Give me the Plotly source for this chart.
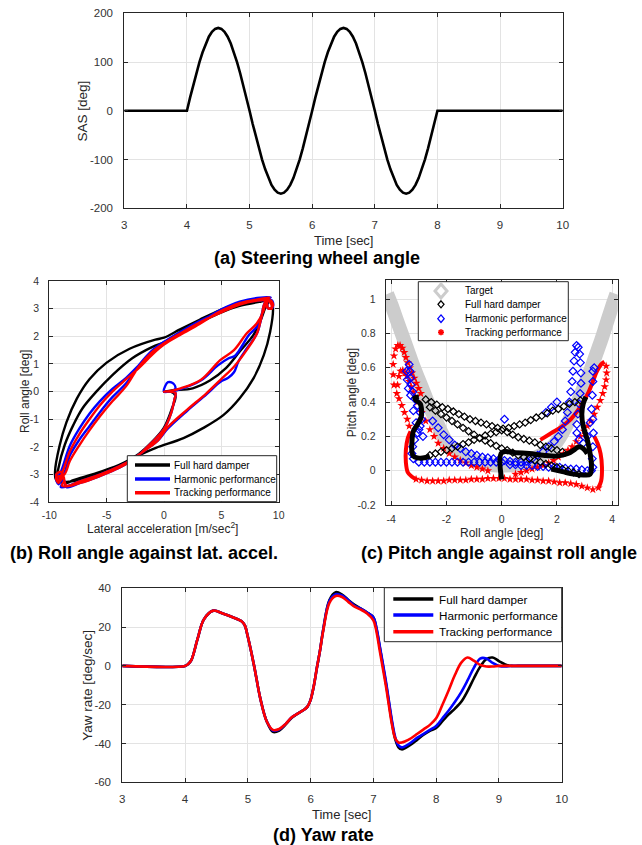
import plotly.graph_objects as go

W, H = 642, 845

# ---------------- (a) Steering wheel angle ----------------
sas_time = [3, 4, 4.05, 4.1, 4.15, 4.2, 4.25, 4.3, 4.35, 4.4, 4.45, 4.5, 4.55, 4.6, 4.65, 4.7, 4.75, 4.8, 4.85,
            4.9, 4.95, 5.0, 5.05, 5.1, 5.15, 5.2, 5.25, 5.3, 5.35, 5.4, 5.45, 5.5, 5.55, 5.6, 5.65, 5.7, 5.75,
            5.8, 5.85, 5.9, 5.95, 6.0, 6.05, 6.1, 6.15, 6.2, 6.25, 6.3, 6.35, 6.4, 6.45, 6.5, 6.55, 6.6, 6.65,
            6.7, 6.75, 6.8, 6.85, 6.9, 6.95, 7.0, 7.05, 7.1, 7.15, 7.2, 7.25, 7.3, 7.35, 7.4, 7.45, 7.5, 7.55,
            7.6, 7.65, 7.7, 7.75, 7.8, 7.85, 7.9, 7.95, 8.0, 10]
sas_deg = [0, 0, 27, 53, 77, 100, 120, 138, 152, 162, 168, 170, 168, 162, 152, 138, 120, 100, 77,
           53, 27, 0, -27, -53, -77, -100, -120, -138, -152, -162, -168, -170, -168, -162, -152, -138, -120,
           -100, -77, -53, -27, 0, 27, 53, 77, 100, 120, 138, 152, 162, 168, 170, 168, 162, 152,
           138, 120, 100, 77, 53, 27, 0, -27, -53, -77, -100, -120, -138, -152, -162, -168, -170, -168,
           -162, -152, -138, -120, -100, -77, -53, -27, 0, 0]

# ---------------- (b) Roll angle vs lateral acceleration ----------------
ay_black = [0, 0.8, 2.5, 4.0, 5.4, 6.6, 7.8, 8.4, 8.9, 9.2,
            8.4, 6.6, 4.9, 3.1, 1.4, 0, -0.75, -3.0, -5.0, -6.5, -7.6, -8.5, -9.1, -9.5, -9.4,
            -8.5, -7.9, -5.9, -3.9, -2.2, -0.7, 1.7, 3.4, 5.2, 6.6, 7.8, 8.7, 9.25, 9.5, 9.3,
            8.4, 6.6, 4.9, 3.1, 1.4, 0.1, -1.0, -2.8, -4.5, -5.9, -7.1, -7.9, -8.65, -9.2, -9.3,
            -8.8, -7.4, -5.6, -3.9, -2.2, -1.0, 0, 0.7, 1.0, 0.6, 0]
roll_black = [0, 0.05, 0.12, 0.4, 0.85, 1.45, 2.05, 2.55, 3.1, 3.3,
              3.3, 3.2, 2.95, 2.6, 2.25, 1.95, 1.88, 1.55, 1.05, 0.45, -0.25, -1.1, -1.95, -2.9, -3.2,
              -3.3, -3.2, -2.95, -2.65, -2.3, -2.03, -1.68, -1.32, -0.84, -0.24, 0.48, 1.32, 2.16, 3.0, 3.3,
              3.25, 3.1, 2.85, 2.5, 2.15, 1.8, 1.62, 1.2, 0.6, 0, -0.6, -1.2, -1.92, -2.76, -3.1,
              -3.25, -3.2, -2.95, -2.65, -2.25, -1.8, -1.3, -0.6, -0.15, 0, 0]

ay_blue = [0, 0.1, 0.35, 0.8, 1.0, 0.8, 1.5, 3.2, 4.7, 5.6, 6.2, 6.8, 7.4, 8.1, 8.6, 8.9,
           9.3, 9.5, 9.1, 8.8, 9.3,
           8.4, 6.6, 4.9, 3.1, 1.4, 0, -1, -2.2, -3.3, -4.5, -5.6, -6.5, -7.4, -8.2, -8.9,
           -9.3, -9.4, -9.0, -8.8, -9.0,
           -8.3, -7.4, -5.6, -3.9, -2.8, -1.6, -0.5, 0.3, 2.0, 3.7, 4.9, 5.6, 6.1, 6.5, 7.2, 8.1, 8.5, 8.8,
           9.4, 9.5, 9.1, 8.9,
           8.4, 6.6, 4.9, 3.1, 1.4, 0, -1, -2.2, -3.3, -4.5, -5.6, -6.5, -7.4, -8.2, -8.8,
           -9.4, -9.2, -8.8,
           -8.5, -7.3, -5.6, -3.9, -2.5, -1.2, 0, 0.6, 0.9, 1.0, 0.5, 0]
roll_blue = [0, 0.2, 0.34, 0.3, 0.12, 0.03, 0.1, 0.4, 0.95, 1.2, 1.3, 1.65, 2.05, 2.35, 2.9, 3.3,
             3.25, 3.05, 3.0, 3.3, 3.4,
             3.4, 3.25, 2.95, 2.5, 2.1, 1.75, 1.4, 0.95, 0.5, 0.1, -0.35, -0.8, -1.35, -1.95, -2.8,
             -3.2, -3.0, -2.95, -3.25, -3.45,
             -3.4, -3.25, -3.0, -2.7, -2.45, -2.1, -1.75, -1.35, -0.7, -0.1, 0.35, 0.5, 0.7, 1.1, 1.55, 2.1, 2.7, 3.2,
             3.3, 3.1, 3.0, 3.3,
             3.3, 3.2, 2.9, 2.55, 2.15, 1.8, 1.5, 0.95, 0.3, -0.2, -0.75, -1.25, -1.75, -2.3, -3.0,
             -3.1, -3.35, -3.1,
             -3.45, -3.3, -3.05, -2.75, -2.4, -1.9, -1.35, -0.8, -0.3, -0.05, 0, 0]

ay_red = [0, 0.5, 1.45, 3.2, 4.9, 6.1, 7.2, 8.1, 8.7, 8.9,
          9.3, 9.4, 9.0, 8.8, 9.2,
          8.4, 6.6, 4.9, 3.1, 1.4, 0, -1, -2.2, -3.3, -4.5, -5.6, -6.5, -7.4, -8.2, -8.8,
          -9.2, -9.4, -9.0, -8.7, -8.9,
          -8.3, -7.4, -5.6, -3.9, -2.8, -1.6, -0.5, 0.3, 2.0, 3.7, 4.9, 6.1, 7.2, 8.1, 8.5, 8.8,
          9.3, 9.5, 9.1, 8.9,
          8.4, 6.6, 4.9, 3.1, 1.4, 0, -1, -2.2, -3.3, -4.5, -5.6, -6.5, -7.4, -8.2, -8.7,
          -9.4, -9.2, -8.8,
          -8.5, -7.3, -5.6, -3.9, -2.5, -1.2, 0, 0.6, 0.9, 1.0, 0.5, 0]
roll_red = [0, 0.02, 0.12, 0.42, 1.14, 1.5, 2.1, 2.47, 2.95, 3.3,
            3.2, 3.0, 3.05, 3.3, 3.4,
            3.35, 3.2, 2.9, 2.45, 2.05, 1.7, 1.35, 0.85, 0.45, 0.0, -0.5, -1.0, -1.55, -2.15, -2.85,
            -3.2, -3.0, -2.9, -3.2, -3.4,
            -3.4, -3.25, -3.0, -2.7, -2.45, -2.1, -1.75, -1.3, -0.66, -0.06, 0.42, 0.9, 1.5, 2.1, 2.7, 3.2,
            3.3, 3.1, 3.0, 3.3,
            3.3, 3.15, 2.85, 2.5, 2.1, 1.75, 1.45, 0.9, 0.2, -0.35, -0.9, -1.4, -1.95, -2.5, -3.0,
            -3.1, -3.3, -3.1,
            -3.4, -3.3, -3.05, -2.75, -2.4, -1.9, -1.35, -0.8, -0.3, -0.05, 0, 0]

# ---------------- (c) Pitch angle vs roll angle ----------------
target_roll = [-4.15, -4.0, -3.8, -3.6, -3.4, -3.2, -3.0, -2.8, -2.6, -2.4, -2.2, -2.0, -1.7, -1.4, -1.0, -0.5, 0,
               0.5, 1.0, 1.4, 1.7, 2.0, 2.2, 2.4, 2.6, 2.8, 3.0, 3.2, 3.4, 3.6, 3.8, 4.0, 4.15]
target_pitch = [1.03, 0.97, 0.88, 0.79, 0.70, 0.61, 0.53, 0.45, 0.37, 0.30, 0.23, 0.17, 0.12, 0.09, 0.06, 0.035,
                0.03, 0.035, 0.06, 0.09, 0.12, 0.17, 0.22, 0.28, 0.35, 0.42, 0.50, 0.58, 0.67, 0.76, 0.86, 0.96, 1.03]

hard_roll = [-2.75, -2.55, -2.35, -2.15, -1.95, -1.75, -1.55, -1.35, -1.15, -0.95, -0.75, -0.55, -0.35, -0.15,
             0.05, 0.25, 0.45, 0.65, 0.85, 1.05, 1.25, 1.45, 1.65, 1.85, 2.05, 2.25, 2.45, 2.65, 2.85,
             -2.6, -2.4, -2.2, -2.0, -1.8, -1.6, -1.4, -1.2, -1.0, -0.8, -0.6, -0.4, -0.2, 0, 0.2, 0.4, 0.6,
             0.8, 1.0, 1.2, 1.4, 1.6, 1.8, 2.0, 2.2, 2.4, 2.6, 2.8,
             -2.6, -2.4, -2.2, -2.0, -1.8, -1.6, -1.4, -1.2, -1.0, -0.8, -0.6, -0.4, -0.2, 0, 0.2, 0.4, 0.6,
             0.8, 1.0, 1.2, 1.4, 1.6, 1.8, 2.0, 2.2]
hard_pitch = [0.415, 0.40, 0.385, 0.37, 0.36, 0.345, 0.33, 0.315, 0.30, 0.29, 0.28, 0.27, 0.26, 0.25,
              0.245, 0.25, 0.26, 0.27, 0.28, 0.295, 0.31, 0.32, 0.335, 0.35, 0.36, 0.375, 0.39, 0.40, 0.41,
              0.37, 0.35, 0.33, 0.31, 0.29, 0.27, 0.25, 0.23, 0.21, 0.19, 0.175, 0.16, 0.145, 0.13, 0.12, 0.105,
              0.09, 0.08, 0.07, 0.06, 0.05, 0.04, 0.03, 0.02, 0.01, 0.0, -0.01, -0.02,
              0.09, 0.10, 0.11, 0.12, 0.13, 0.14, 0.155, 0.165, 0.18, 0.19, 0.205, 0.215, 0.225, 0.235, 0.225,
              0.21, 0.195, 0.185, 0.175, 0.165, 0.15, 0.14, 0.13, 0.12, 0.11]
hard_dense_roll = [-3.0, -3.15, -3.1, -2.95, -2.9, -2.92, -3.05, -3.2, -3.25, -3.25, -3.2, -3.05, -2.8, -2.6, None,
                   0, 0, 0.5, 1.0, 1.5, 2.0, 2.4, 2.65, 2.8, 2.95, 3.1, None,
                   3.05, 2.95, 2.9, 2.95, 3.1, 3.2, 3.25, 3.2, 3.0, 2.6, 2.2, 1.8]
hard_dense_pitch = [0.43, 0.425, 0.41, 0.39, 0.35, 0.31, 0.27, 0.23, 0.17, 0.11, 0.085, 0.075, 0.075, 0.085, None,
                    -0.05, 0.105, 0.105, 0.10, 0.09, 0.085, 0.10, 0.125, 0.14, 0.13, 0.10, None,
                    0.43, 0.39, 0.33, 0.26, 0.18, 0.10, 0.03, -0.02, -0.025, -0.02, -0.005, 0.01]

harm_roll = [-3.35, -3.32, -3.3, -3.28, -3.22, -3.15, -3.05, -2.95, -2.9, -2.95, -3.05, -3.15, -3.22, -3.25, -3.2,
             -3.45, -3.42, -3.38, -3.3, -3.2, -3.1, -3.0, -2.85,
             -3.0, -2.8, -2.6, -2.4, -2.2, -2.0, -1.8, -1.6, -1.4, -1.2, -1.0, -0.8, -0.6, -0.4, -0.2, 0.0,
             -2.5, -2.3, -2.1, -1.9, -1.7, -1.5, -1.3, -1.1, -0.9, -0.7, -0.5, -0.3, -0.1, 0.1, 0.3, 0.5, 0.7, 0.9,
             1.1, 1.3, 1.5, 1.7, 1.9, 2.05, 2.2, 2.3, 2.38, 2.45, 2.5, 2.55, 2.58, 2.62, 2.66, 2.71, 2.77, 2.82,
             2.85, 2.87, 2.87, 2.84, 2.8, 2.76, 2.72, 2.72, 2.8, 2.95, 3.1, 3.2, 3.25, 3.28, 3.3, 3.3, 3.35, 3.3,
             3.32, 3.3, 3.28, 3.3, 3.25,
             3.1, 2.9, 2.7, 2.5, 2.3, 2.1, 1.9, 1.7, 1.5, 1.3, 1.1, 0.9, 0.7, 0.5, 0.3, 0.1,
             1.6, 1.8, 2.0, 2.15]
harm_pitch = [0.62, 0.58, 0.54, 0.50, 0.46, 0.42, 0.38, 0.34, 0.30, 0.26, 0.22, 0.18, 0.14, 0.10, 0.07,
              0.58, 0.53, 0.48, 0.44, 0.35, 0.28, 0.24, 0.20,
              0.05, 0.05, 0.05, 0.05, 0.05, 0.05, 0.05, 0.05, 0.05, 0.05, 0.05, 0.05, 0.05, 0.05, 0.05, 0.05,
              0.29, 0.25, 0.21, 0.18, 0.15, 0.13, 0.11, 0.10, 0.09, 0.08, 0.075, 0.07, 0.065, 0.06, 0.055, 0.05,
              0.05, 0.055,
              0.07, 0.09, 0.11, 0.14, 0.17, 0.20, 0.24, 0.29, 0.34, 0.40, 0.46, 0.52, 0.58, 0.64, 0.69, 0.73, 0.72,
              0.68, 0.63, 0.57, 0.51, 0.45, 0.39, 0.33, 0.27, 0.22, 0.18, 0.16, 0.20, 0.28, 0.36, 0.44, 0.52, 0.58,
              0.60, 0.30, 0.22, 0.14, 0.07, 0.02,
              0.0, 0.0, 0.005, 0.01, 0.01, 0.015, 0.02, 0.02, 0.02, 0.025, 0.025, 0.03, 0.03, 0.03, 0.035, 0.035,
              0.30, 0.34, 0.37, 0.40]

track_roll = [3.5, 3.3, 3.1, 2.9, 2.7, 2.5, 2.3, 2.1, 1.9, 1.7, 1.5, 1.3, 1.1, 0.9, 0.7, 0.5, 0.3, 0.1, -0.1,
              -0.3, -0.5, -0.7, -0.9, -1.1, -1.3, -1.5, -1.7, -1.9, -2.1, -2.3, -2.5, -2.7, -2.9, -3.1,
              -3.9, -3.93, -3.93, -3.9, -3.84, -3.76, -3.68, -3.6, -3.53, -3.47, -3.4, -3.33, -3.25, -3.17,
              -3.09, -3.01, -2.93,
              -3.8, -3.77, -3.72, -3.66, -3.58, -3.5, -3.42, -3.35, -3.28, -3.2, -3.13, -3.05,
              -3.72, -3.62, -3.52, -3.42, -3.35,
              -2.9, -2.75, -2.6, -2.45, -2.3, -2.1, -1.9, -1.7, -1.5, -1.3, -1.1, -0.9, -0.7, -0.5,
              3.78, 3.8, 3.78, 3.73, 3.66, 3.57, 3.46, 3.35, 3.22, 3.1, 2.98, 2.85, 2.7, 2.55, 2.4, 2.24, 2.05,
              1.88, 1.7, 1.5, 1.3, 1.1, 0.9, 0.7, 0.5]
track_pitch = [-0.10, -0.11, -0.10, -0.09, -0.08, -0.075, -0.07, -0.07, -0.065, -0.06, -0.06, -0.055, -0.055,
               -0.05, -0.05, -0.05, -0.05, -0.045, -0.045, -0.045, -0.045, -0.05, -0.05, -0.05, -0.055, -0.055,
               -0.055, -0.055, -0.06, -0.06, -0.06, -0.06, -0.055, -0.05,
               0.50, 0.56, 0.62, 0.67, 0.71, 0.73, 0.73, 0.715, 0.69, 0.66, 0.63, 0.60, 0.57, 0.54,
               0.51, 0.48, 0.45,
               0.45, 0.50, 0.55, 0.58, 0.585, 0.57, 0.55, 0.52, 0.49, 0.46, 0.43, 0.40,
               0.42, 0.38, 0.34, 0.30, 0.26,
               0.34, 0.29, 0.24, 0.20, 0.16, 0.13, 0.10, 0.08, 0.06, 0.045, 0.03, 0.02, 0.01, 0.0,
               0.61, 0.57, 0.53, 0.49, 0.45, 0.41, 0.37, 0.33, 0.29, 0.26, 0.23, 0.20, 0.17, 0.14, 0.12, 0.10, 0.08,
               0.06, 0.045, 0.03, 0.02, 0.01, 0.0, -0.01, -0.02]
track_dense_roll = [-3.1, -3.25, -3.4, -3.47, -3.47, -3.4, -3.3, None,
                    3.5, 3.6, 3.63, 3.58, 3.47, 3.35, None,
                    1.4, 1.8, 2.2, 2.5, 2.75, 2.95, 3.15, 3.3, 3.45, 3.6, 3.72]
track_dense_pitch = [-0.05, -0.035, -0.01, 0.05, 0.12, 0.19, 0.23, None,
                     -0.10, -0.06, 0.02, 0.10, 0.16, 0.20, None,
                     0.18, 0.22, 0.26, 0.30, 0.35, 0.40, 0.46, 0.52, 0.58, 0.62, 0.635]

# ---------------- (d) Yaw rate ----------------
yaw_time = [3, 4, 4.05, 4.1, 4.2, 4.3, 4.45, 4.6, 4.75, 4.9, 4.95, 5.0, 5.1, 5.2, 5.3, 5.4, 5.5, 5.6, 5.7, 5.8,
            5.9, 5.95, 6.0, 6.05, 6.1, 6.15, 6.2, 6.3, 6.4, 6.5, 6.6, 6.7, 6.8, 6.9, 7.0, 7.05, 7.1, 7.2, 7.3,
            7.35, 7.4, 7.45, 7.5, 7.6, 7.7, 7.8, 7.9, 8.0, 8.1, 8.2, 8.3, 8.4, 8.5, 8.6, 8.7, 8.8, 8.9, 9.0,
            9.1, 9.2, 9.3, 9.5, 10]
yaw_red = [0, 0, 1, 3, 14, 24, 28.5, 27, 25.2, 23, 21, 15, 0, -17, -28.5, -33, -32.5, -30, -26.5, -24.5,
           -22.5, -21, -17.5, -10.5, -1, 8, 18, 32.5, 36, 35.5, 33, 30.5, 29, 27, 23.5, 17.5, 8, -10.5, -31,
           -37.5, -39.5, -39.5, -39, -37.3, -35, -32.7, -30.4, -27, -20, -12.5, -4.6, 1.7, 4.3, 2.7, 0.5, -0.3,
           -0.3, 0, 0, 0, 0, 0, 0]
yaw_blue = [0, 0, 1, 3, 14, 24, 28.5, 27, 25.2, 23, 21, 15, 0, -17, -28.5, -33.3, -32.8, -30, -26.5, -24.5,
            -22.5, -21, -17.5, -10.5, -1, 8, 18.5, 33.5, 37, 36.3, 33.8, 31, 29.5, 27.5, 25, 19.5, 10.5, -8, -29,
            -37, -41, -42, -41.5, -39.5, -37, -35, -33, -31, -27, -23, -18.5, -13.5, -7.5, -1, 3.8, 3.8,
            1.5, 0, -0.3, 0, 0, 0, 0]
yaw_black = [0, 0, 1, 3, 14, 24, 28.5, 27, 25.2, 23, 21, 15, 0, -17, -28.5, -34, -33.3, -30.3, -26.8, -24.5,
             -22.5, -21, -17.5, -10.5, -1, 8, 18.5, 34, 38, 36.8, 34, 31.5, 29.5, 27.5, 25, 19, 10, -9, -30,
             -38, -42, -43, -42.5, -40.5, -38, -35.5, -33.5, -32, -28.5, -25, -22, -18.5, -13, -6.5, -0.5, 3.5,
             4.3, 2.5, 0.8, 0, 0, 0, 0]

# tick labels
time_ticks = [3, 4, 5, 6, 7, 8, 9, 10]
sas_ticks = [-200, -100, 0, 100, 200]
sas_ticktext = ["-200", "-100", "0", "100", "200"]
ay_ticks = [-10, -5, 0, 5, 10]
ay_ticktext = ["-10", "-5", "0", "5", "10"]
roll_ticks = [-4, -3, -2, -1, 0, 1, 2, 3, 4]
roll_ticktext = ["-4", "-3", "-2", "-1", "0", "1", "2", "3", "4"]
rollc_ticks = [-4, -2, 0, 2, 4]
rollc_ticktext = ["-4", "-2", "0", "2", "4"]
pitch_ticks = [-0.2, 0, 0.2, 0.4, 0.6, 0.8, 1]
pitch_ticktext = ["-0.2", "0", "0.2", "0.4", "0.6", "0.8", "1"]
yaw_ticks = [-60, -40, -20, 0, 20, 40]
yaw_ticktext = ["-60", "-40", "-20", "0", "20", "40"]

BLACK, BLUE, RED, GRAY = "#000000", "#0000ff", "#ff0000", "#cccccc"
FONT = "Liberation Sans, Arial, sans-serif"

fig = go.Figure()

# (a)
fig.add_trace(go.Scatter(x=sas_time, y=sas_deg, mode="lines", line=dict(color=BLACK, width=2.6),
                         xaxis="x", yaxis="y"))
# (b)
for xs, ys, c in [(ay_black, roll_black, BLACK), (ay_blue, roll_blue, BLUE), (ay_red, roll_red, RED)]:
    fig.add_trace(go.Scatter(x=xs, y=ys, mode="lines", line=dict(color=c, width=2.4, shape="spline", smoothing=1),
                             xaxis="x2", yaxis="y2"))
# (c)
fig.add_trace(go.Scatter(x=target_roll, y=target_pitch, mode="lines",
                         line=dict(color=GRAY, width=14, shape="spline"), xaxis="x3", yaxis="y3"))
fig.add_trace(go.Scatter(x=track_dense_roll, y=track_dense_pitch, mode="lines",
                         line=dict(color=RED, width=4, shape="spline"), xaxis="x3", yaxis="y3"))
fig.add_trace(go.Scatter(x=track_roll, y=track_pitch, mode="markers",
                         marker=dict(symbol="star", size=6.5, color=RED, opacity=1, line=dict(width=0)),
                         xaxis="x3", yaxis="y3"))
fig.add_trace(go.Scatter(x=harm_roll, y=harm_pitch, mode="markers",
                         marker=dict(symbol="diamond-open", size=6, color=BLUE, opacity=1,
                                     line=dict(color=BLUE, width=1.2)),
                         xaxis="x3", yaxis="y3"))
fig.add_trace(go.Scatter(x=hard_dense_roll, y=hard_dense_pitch, mode="lines",
                         line=dict(color=BLACK, width=5, shape="spline"), xaxis="x3", yaxis="y3"))
fig.add_trace(go.Scatter(x=hard_roll, y=hard_pitch, mode="markers",
                         marker=dict(symbol="diamond-open", size=5.5, color=BLACK, opacity=1,
                                     line=dict(color=BLACK, width=1.2)),
                         xaxis="x3", yaxis="y3"))
# (d)
for ys, c in [(yaw_black, BLACK), (yaw_blue, BLUE), (yaw_red, RED)]:
    fig.add_trace(go.Scatter(x=yaw_time, y=ys, mode="lines", line=dict(color=c, width=2.6, shape="spline"),
                             xaxis="x4", yaxis="y4"))


def dom_x(a, b):
    return [a / W, b / W]


def dom_y(top, bottom):
    return [1 - bottom / H, 1 - top / H]


def axstyle(size, stand, **kw):
    d = dict(showline=True, linecolor="#262626", linewidth=1, mirror="ticks", ticks="inside", ticklen=4,
             tickcolor="#262626", showgrid=True, gridcolor="#e3e3e3", gridwidth=1, zeroline=False,
             automargin=False, tickfont=dict(size=size, color="#333333", family=FONT),
             ticklabelstandoff=stand)
    d.update(kw)
    return d


fig.update_layout(
    template="none",
    width=W, height=H, autosize=False, margin=dict(l=0, r=0, t=0, b=0, pad=0, autoexpand=False),
    paper_bgcolor="white", plot_bgcolor="white",
    showlegend=False, font=dict(family=FONT),
    xaxis=axstyle(11.5, 6, domain=dom_x(124.3, 562.7), range=[3, 10], tickvals=time_ticks, anchor="y"),
    yaxis=axstyle(11.5, 8, domain=dom_y(13.3, 208.3), range=[-200, 200], tickvals=sas_ticks,
                  ticktext=sas_ticktext, anchor="x"),
    xaxis2=axstyle(10.5, 3, domain=dom_x(49.3, 278.7), range=[-10, 10], tickvals=ay_ticks,
                   ticktext=ay_ticktext, anchor="y2"),
    yaxis2=axstyle(10.5, 7, domain=dom_y(281, 502.3), range=[-4, 4], tickvals=roll_ticks,
                   ticktext=roll_ticktext, anchor="x2"),
    xaxis3=axstyle(10.5, 4, domain=dom_x(385.7, 617.7), range=[-4.2, 4.2], tickvals=rollc_ticks,
                   ticktext=rollc_ticktext, anchor="y3"),
    yaxis3=axstyle(10.5, 7, domain=dom_y(280, 505), range=[-0.2, 1.112], tickvals=pitch_ticks,
                   ticktext=pitch_ticktext, anchor="x3"),
    xaxis4=axstyle(11.5, 6, domain=dom_x(122.3, 561.7), range=[3, 10], tickvals=time_ticks, anchor="y4"),
    yaxis4=axstyle(11.5, 8, domain=dom_y(588.3, 782.3), range=[-60, 40], tickvals=yaw_ticks,
                   ticktext=yaw_ticktext, anchor="x4"),
)

# ---------- annotations (titles, axis labels, legend text) ----------
ann = []


def text(px, py, s, size, bold=False, angle=0, anchor="center", color="#262626"):
    ann.append(dict(x=px / W, y=1 - py / H, xref="paper", yref="paper", text=("<b>%s</b>" % s) if bold else s,
                    showarrow=False, xanchor=anchor, yanchor="middle", textangle=angle,
                    font=dict(size=size, color=color, family=FONT)))


text(343.5, 240, "Time [sec]", 13)
text(82.7, 110.8, "SAS [deg]", 13.5, angle=-90)
text(317, 258, "(a) Steering wheel angle", 18, bold=True, color="#000000")

text(163, 528, "Lateral acceleration [m/sec<sup>2</sup>]", 12)
text(25, 392, "Roll angle [deg]", 12, angle=-90)
text(143.5, 552.5, "(b) Roll angle against lat. accel.", 18, bold=True, color="#000000")

text(501, 533, "Roll angle [deg]", 12)
text(351.7, 392.5, "Pitch angle [deg]", 12, angle=-90)
text(499, 552.5, "(c) Pitch angle against roll angle", 18, bold=True, color="#000000")

text(342, 814.5, "Time [sec]", 13)
text(86.7, 685, "Yaw rate [deg/sec]", 13.5, angle=-90)
text(324, 835, "(d) Yaw rate", 18, bold=True, color="#000000")

# ---------- legends (drawn as boxes + glyphs) ----------
shapes = []


def P(x, y):
    return x / W, 1 - y / H


def rect(x0, y0, x1, y1):
    a, b = P(x0, y1)
    c, d = P(x1, y0)
    shapes.append(dict(type="rect", xref="paper", yref="paper", x0=a, y0=b, x1=c, y1=d,
                       line=dict(color="#262626", width=1), fillcolor="white", layer="above"))


def seg(x0, y0, x1, y1, color, width):
    a, b = P(x0, y0)
    c, d = P(x1, y1)
    shapes.append(dict(type="line", xref="paper", yref="paper", x0=a, y0=b, x1=c, y1=d,
                       line=dict(color=color, width=width), layer="above"))


def diamond(cx, cy, hw, hh, color, width):
    pts = [P(cx, cy - hh), P(cx + hw, cy), P(cx, cy + hh), P(cx - hw, cy)]
    path = "M " + " L ".join("%f,%f" % p for p in pts) + " Z"
    shapes.append(dict(type="path", xref="paper", yref="paper", path=path,
                       line=dict(color=color, width=width), layer="above"))


legend_names = ["Full hard damper", "Harmonic performance", "Tracking performance"]
line_colors = [BLACK, BLUE, RED]

# (b) legend
rect(127.3, 455.7, 276.7, 501.7)
for yy, nm, c in zip([465, 479, 492.7], legend_names, line_colors):
    seg(135, yy, 170, yy, c, 3.5)
    text(172, yy, nm, 10, anchor="left", color="#000000")

# (d) legend
rect(384.3, 587.7, 561.7, 641.7)
for yy, nm, c in zip([599, 615, 631.7], legend_names, line_colors):
    seg(393.3, yy, 433.3, yy, c, 3.5)
    text(436.7, yy, nm, 11.7, anchor="left", color="#000000")

# (c) legend
rect(418.3, 281.7, 568.3, 340.7)
cx = 441
diamond(cx, 291, 6, 7, GRAY, 3)
diamond(cx, 304.3, 3, 3.5, BLACK, 1.3)
diamond(cx, 318.7, 3.2, 3.8, BLUE, 1.3)
seg(cx - 3, 332.3, cx + 3, 332.3, RED, 1.8)
seg(cx, 329.3, cx, 335.3, RED, 1.8)
seg(cx - 2.2, 330.1, cx + 2.2, 334.5, RED, 1.5)
seg(cx - 2.2, 334.5, cx + 2.2, 330.1, RED, 1.5)
for yy, nm in zip([291, 304.3, 318.7, 332.3], ["Target"] + legend_names):
    text(462.7, yy, nm, 10, anchor="left", color="#000000")

fig.update_layout(annotations=ann, shapes=shapes)
fig.write_html("out.html", config={"responsive": False, "displayModeBar": False},
               post_script="document.body.style.margin='0px';document.body.style.overflow='hidden';")
